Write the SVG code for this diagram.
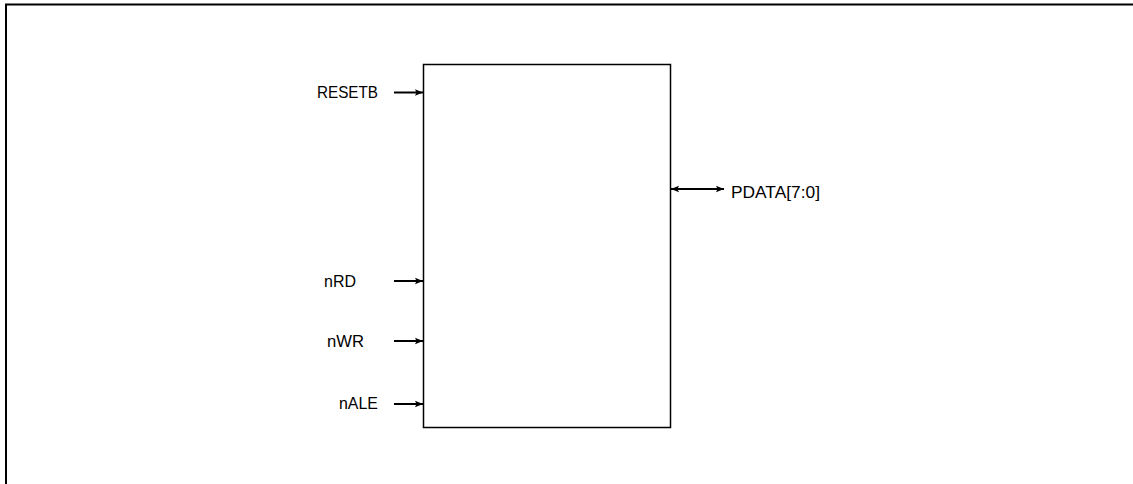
<svg xmlns="http://www.w3.org/2000/svg" width="1133" height="484" viewBox="0 0 1133 484">
<style>
.t{font-family:"Liberation Sans",Arial,sans-serif;font-size:16.5px;fill:#000}
.w{stroke:#000;stroke-width:2;fill:none}
</style>
<defs>
<marker id="ah" markerWidth="9" markerHeight="9" refX="8" refY="4.5" orient="auto" markerUnits="userSpaceOnUse">
<path d="M0,1.2 L8,4.5 L0,7.8 L1.5,4.5 Z" fill="#000"/>
</marker>
<marker id="as" markerWidth="9" markerHeight="9" refX="1" refY="4.5" orient="auto" markerUnits="userSpaceOnUse">
<path d="M9,1.2 L1,4.5 L9,7.8 L7.5,4.5 Z" fill="#000"/>
</marker>
</defs>
<rect x="0" y="0" width="1133" height="484" fill="#fff"/>
<path d="M6,484 V4.5 H1133" stroke="#000" stroke-width="2" fill="none"/>
<g id="block">
<rect x="423.5" y="64.5" width="247" height="363" fill="#fff" stroke="#000" stroke-width="1.5"/>
</g>
<g id="connectors">
<line class="w" x1="394" y1="92.5" x2="423" y2="92.5" marker-end="url(#ah)"/>
<line class="w" x1="394" y1="281" x2="423" y2="281" marker-end="url(#ah)"/>
<line class="w" x1="394" y1="341" x2="423" y2="341" marker-end="url(#ah)"/>
<line class="w" x1="394" y1="404" x2="423" y2="404" marker-end="url(#ah)"/>
<line class="w" x1="671" y1="189" x2="724" y2="189" marker-start="url(#as)" marker-end="url(#ah)"/>
</g>
<g id="RESETB"><text class="t" x="317" y="98" textLength="61" lengthAdjust="spacingAndGlyphs">RESETB</text></g>
<g id="nRD"><text class="t" x="324" y="287" textLength="32" lengthAdjust="spacingAndGlyphs">nRD</text></g>
<g id="nWR"><text class="t" x="327" y="347" textLength="37" lengthAdjust="spacingAndGlyphs">nWR</text></g>
<g id="nALE"><text class="t" x="339" y="409" textLength="39" lengthAdjust="spacingAndGlyphs">nALE</text></g>
<g id="PDATA"><text class="t" x="731" y="197.5" textLength="89" lengthAdjust="spacingAndGlyphs">PDATA[7:0]</text></g>
</svg>
